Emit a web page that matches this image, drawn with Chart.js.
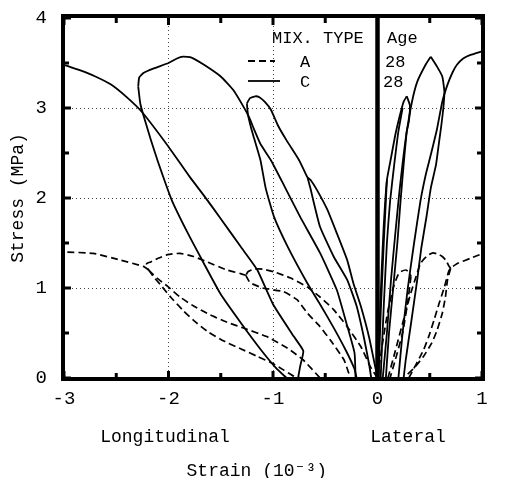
<!DOCTYPE html>
<html>
<head>
<meta charset="utf-8">
<script src="https://cdn.jsdelivr.net/npm/chart.js@4.4.1/dist/chart.umd.min.js"></script>
<style>
  html, body { margin: 0; padding: 0; background: #fff; }
  #wrap { width: 506px; height: 478px; }
</style>
</head>
<body>
<div id="wrap"><canvas id="myChart" width="506" height="478"></canvas></div>
<script>
// axis ticks
var xTicks = [-3, -2, -1, 0, 1];
var yTicks = [0, 1, 2, 3, 4];
var xMarks = [-3, -2.5, -2, -1.5, -1, -0.5, 0, 0.5, 1];
var yMarks = [0, 0.5, 1, 1.5, 2, 2.5, 3, 3.5, 4];

// legend
var mixTypes = ['A', 'C'];
var ages = ['28', '28'];

// MIX C (solid) - longitudinal strain (negative side)
var cLoadLong = [[0,0],[-0.08,0.45],[-0.16,0.8],[-0.23,1.05],[-0.29,1.31],[-0.39,1.61],[-0.48,1.87],[-0.58,2.09],[-0.64,2.2],[-0.67,2.23],[-0.7,2.3],[-0.75,2.42],[-0.87,2.64],[-0.95,2.8],[-1.02,2.98],[-1.08,3.07],[-1.13,3.12],[-1.17,3.13],[-1.22,3.11],[-1.25,3.05]];
var cUnload1Long = [[-0.67,2.23],[-0.64,2.1],[-0.62,2.0],[-0.55,1.68],[-0.42,1.35],[-0.29,1.09],[-0.2,0.8],[-0.13,0.45],[-0.08,0.15],[-0.06,0]];
var cUnload2Long = [[-1.25,3.05],[-1.24,2.93],[-1.21,2.78],[-1.18,2.66],[-1.12,2.42],[-1.07,2.11],[-0.99,1.79],[-0.86,1.46],[-0.67,1.05],[-0.55,0.82],[-0.42,0.56],[-0.3,0.3],[-0.22,0.1],[-0.2,0]];
var cReload3Long = [[-0.21,0],[-0.22,0.28],[-0.3,0.62],[-0.39,0.98],[-0.55,1.39],[-0.74,1.79],[-0.89,2.13],[-1.02,2.42],[-1.12,2.6],[-1.18,2.76],[-1.23,2.9],[-1.28,3.01],[-1.38,3.2],[-1.5,3.35],[-1.66,3.48],[-1.78,3.56],[-1.86,3.57],[-1.92,3.55],[-2.0,3.5],[-2.14,3.44],[-2.24,3.39],[-2.28,3.34],[-2.29,3.24]];
var cUnload3Long = [[-2.29,3.24],[-2.27,3.05],[-2.24,2.92],[-2.17,2.65],[-2.1,2.4],[-1.97,1.98],[-1.82,1.62],[-1.66,1.27],[-1.5,0.93],[-1.3,0.6],[-1.12,0.32],[-0.97,0.11],[-0.87,0]];
var cReload4Long = [[-0.76,0],[-0.74,0.13],[-0.71,0.3],[-0.8,0.46],[-1.0,0.82],[-1.15,1.2],[-1.31,1.46],[-1.5,1.77],[-1.65,2.01],[-1.8,2.24],[-2.0,2.57],[-2.25,2.95],[-2.4,3.12],[-2.55,3.26],[-2.7,3.35],[-2.85,3.42],[-3.0,3.48]];

// MIX C (solid) - lateral strain
var cLoadLat = [[0,0],[0.02,0.6],[0.04,1.2],[0.06,1.7],[0.09,2.2],[0.13,2.45],[0.17,2.7],[0.21,2.9],[0.25,3.07],[0.28,3.13]];
var cUnload1Lat = [[0.09,2.2],[0.06,1.5],[0.03,0.7],[0.01,0]];
var cReload2Lat = [[0.03,0],[0.06,0.8],[0.09,1.5],[0.12,1.96],[0.16,2.37],[0.2,2.74],[0.24,3.0]];
var cUnload2Lat = [[0.28,3.13],[0.31,3.03],[0.3,2.85],[0.28,2.74],[0.25,2.37],[0.22,1.96],[0.19,1.5],[0.15,1.0],[0.11,0.5],[0.08,0]];
var cReload3Lat = [[0.05,0],[0.09,0.5],[0.13,1.1],[0.17,1.6],[0.2,1.96],[0.22,2.18],[0.25,2.48],[0.28,2.74],[0.33,3.07],[0.38,3.29],[0.46,3.48],[0.51,3.57]];
var cUnload3Lat = [[0.51,3.57],[0.57,3.46],[0.62,3.35],[0.64,3.18],[0.63,3.0],[0.61,2.8],[0.59,2.63],[0.56,2.37],[0.51,2.11],[0.47,1.8],[0.42,1.45],[0.38,1.09],[0.32,0.6],[0.27,0.2],[0.25,0]];
var cReload4Lat = [[0.2,0],[0.24,0.5],[0.29,1.0],[0.35,1.5],[0.41,1.96],[0.46,2.25],[0.51,2.48],[0.57,2.77],[0.62,3.07],[0.67,3.26],[0.72,3.4],[0.76,3.48],[0.82,3.55],[0.89,3.59],[1.0,3.63]];

// MIX A (dashed) - longitudinal strain
var aLoadLong = [[0,0],[-0.07,0.13],[-0.16,0.35],[-0.29,0.57],[-0.42,0.76],[-0.55,0.9],[-0.67,1.01],[-0.83,1.11],[-0.99,1.18],[-1.1,1.21],[-1.18,1.21],[-1.24,1.18],[-1.26,1.14]];
var aArcLong = [[-1.26,1.14],[-1.31,1.16],[-1.44,1.2],[-1.63,1.29],[-1.76,1.35],[-1.89,1.385],[-2.01,1.37],[-2.1,1.33],[-2.17,1.29],[-2.21,1.27],[-2.19,1.2]];
var aUnload2Long = [[-1.26,1.14],[-1.22,1.06],[-1.1,1.0],[-0.9,0.96],[-0.77,0.87],[-0.67,0.72],[-0.55,0.57],[-0.45,0.42],[-0.32,0.2],[-0.26,0]];
var aMidLong = [[-2.19,1.2],[-2.11,1.11],[-2.01,1.02],[-1.89,0.9],[-1.76,0.8],[-1.6,0.7],[-1.44,0.62],[-1.27,0.55],[-1.06,0.46],[-0.86,0.33],[-0.71,0.2],[-0.55,0]];
var aLowLong = [[-2.19,1.2],[-2.14,1.12],[-2.08,1.04],[-1.98,0.9],[-1.86,0.75],[-1.76,0.64],[-1.63,0.52],[-1.47,0.41],[-1.3,0.32],[-1.15,0.24],[-1.0,0.16],[-0.9,0.09],[-0.8,0.02],[-0.74,0]];
var aReload4Long = [[-2.19,1.2],[-2.24,1.24],[-2.46,1.31],[-2.72,1.385],[-3.0,1.4]];

// MIX A (dashed) - lateral strain
var aLoadLat = [[0,0],[0.05,0.4],[0.1,0.75],[0.15,1.0],[0.19,1.13],[0.22,1.18],[0.27,1.2],[0.3,1.18],[0.32,1.13]];
var aUnload1Lat = [[0.32,1.13],[0.29,0.85],[0.24,0.5],[0.17,0.2],[0.12,0]];
var aReload2Lat = [[0.1,0],[0.17,0.3],[0.25,0.65],[0.32,0.95],[0.37,1.13],[0.41,1.27],[0.45,1.33],[0.49,1.37],[0.53,1.39],[0.57,1.38],[0.62,1.35],[0.66,1.3],[0.68,1.25],[0.7,1.22]];
var aUnload3Lat = [[0.7,1.22],[0.67,1.09],[0.65,0.9],[0.62,0.72],[0.57,0.53],[0.52,0.39],[0.44,0.24],[0.35,0.11],[0.25,0]];
var aReload4Lat = [[0.3,0],[0.44,0.31],[0.49,0.46],[0.54,0.64],[0.59,0.83],[0.64,1.01],[0.68,1.18],[0.7,1.22],[0.76,1.27],[0.89,1.33],[1.0,1.38]];

var solidCurves = [cLoadLong, cUnload1Long, cUnload2Long, cReload3Long, cUnload3Long, cReload4Long,
                   cLoadLat, cUnload1Lat, cReload2Lat, cUnload2Lat, cReload3Lat, cUnload3Lat, cReload4Lat];
var dashedCurves = [aLoadLong, aArcLong, aUnload2Long, aMidLong, aLowLong, aReload4Long,
                    aLoadLat, aUnload1Lat, aReload2Lat, aUnload3Lat, aReload4Lat];

var FONT = '"Liberation Mono", "DejaVu Sans Mono", monospace';
var dashA = [7, 4];

function toPoints(arr) {
  return arr.map(function(p) { return {x: p[0], y: p[1]}; });
}

var datasets = [];
dashedCurves.forEach(function(c) {
  datasets.push({ data: toPoints(c), borderColor: '#000', borderWidth: 1.7, borderDash: dashA,
                  showLine: true, pointRadius: 0, tension: 0.15, fill: false });
});
solidCurves.forEach(function(c) {
  datasets.push({ data: toPoints(c), borderColor: '#000', borderWidth: 1.8,
                  showLine: true, pointRadius: 0, tension: 0.15, fill: false });
});

// frame, inward tick marks, zero line and legend
var framePlugin = {
  id: 'frame',
  afterDraw: function(chart) {
    var ctx = chart.ctx, a = chart.chartArea, x = chart.scales.x, y = chart.scales.y;
    ctx.save();
    ctx.strokeStyle = '#000';
    ctx.lineCap = 'butt';

    ctx.lineWidth = 3;
    xMarks.forEach(function(v) {
      var px = x.getPixelForValue(v), len = Number.isInteger(v) ? 7 : 5;
      ctx.beginPath();
      ctx.moveTo(px, a.top); ctx.lineTo(px, a.top + len);
      ctx.moveTo(px, a.bottom); ctx.lineTo(px, a.bottom - len);
      ctx.stroke();
    });
    yMarks.forEach(function(v) {
      var py = y.getPixelForValue(v), len = Number.isInteger(v) ? 7 : 5;
      ctx.beginPath();
      ctx.moveTo(a.left, py); ctx.lineTo(a.left + len, py);
      ctx.moveTo(a.right, py); ctx.lineTo(a.right - len, py);
      ctx.stroke();
    });

    var z = x.getPixelForValue(0);
    ctx.lineWidth = 4.5;
    ctx.beginPath();
    ctx.moveTo(z, a.top); ctx.lineTo(z, a.bottom);
    ctx.stroke();

    ctx.lineWidth = 4;
    ctx.strokeRect(a.left - 1, a.top - 2, a.right - a.left + 2, a.bottom - a.top + 3);

    // legend
    ctx.fillStyle = '#000';
    ctx.textBaseline = 'middle';
    ctx.font = '17px ' + FONT;
    ctx.textAlign = 'left';
    ctx.fillText('MIX. TYPE', 272, 38);
    ctx.fillText('Age', 387, 38);
    var rows = [{dash: dashA, y: 61, x1: 275}, {dash: [], y: 81, x1: 280}];
    rows.forEach(function(r, i) {
      ctx.lineWidth = 1.8;
      ctx.setLineDash(r.dash);
      ctx.beginPath();
      ctx.moveTo(248, r.y); ctx.lineTo(r.x1, r.y);
      ctx.stroke();
      ctx.setLineDash([]);
      ctx.textAlign = 'center';
      ctx.fillText(mixTypes[i], 305, r.y + 1);
      ctx.textAlign = 'left';
      ctx.fillText(ages[i], 385 - i * 2, r.y + 1);
    });
    ctx.restore();
  }
};

var ctx = document.getElementById('myChart').getContext('2d');
var myChart = new Chart(ctx, {
  type: 'scatter',
  data: { datasets: datasets },
  options: {
    responsive: false,
    animation: false,
    layout: { padding: { top: 18, right: 24, left: 0, bottom: 0 } },
    plugins: { legend: { display: false }, tooltip: { enabled: false } },
    scales: {
      x: {
        type: 'linear', min: -3, max: 1,
        afterBuildTicks: function(s) { s.ticks = xTicks.map(function(v) { return {value: v}; }); },
        afterFit: function(s) { s.height = 100; s.paddingLeft = 0; s.paddingRight = 0; },
        ticks: { color: '#000', padding: 10, font: { family: FONT, size: 19 }, maxRotation: 0 },
        grid: { drawTicks: false, lineWidth: 1,
                color: function(c) { return (c.tick && (c.tick.value === 0 || c.tick.value === -3 || c.tick.value === 1)) ? 'rgba(0,0,0,0)' : '#444'; } },
        border: { display: false, dash: [1, 3] },
        title: { display: true, color: '#000',
                 text: ['Longitudinal             Lateral', 'Strain (10\u207B\u00B3)   '],
                 font: { family: FONT, size: 18, lineHeight: '34px' },
                 padding: { top: 0, bottom: -10 } }
      },
      y: {
        type: 'linear', min: 0, max: 4,
        afterBuildTicks: function(s) { s.ticks = yTicks.map(function(v) { return {value: v}; }); },
        afterFit: function(s) { s.width = 64; s.paddingTop = 0; s.paddingBottom = 0; },
        ticks: { color: '#000', padding: 17, font: { family: FONT, size: 19 } },
        grid: { drawTicks: false, lineWidth: 1,
                color: function(c) { return (c.tick && (c.tick.value === 0 || c.tick.value === 4)) ? 'rgba(0,0,0,0)' : '#444'; } },
        border: { display: false, dash: [1, 3] },
        title: { display: true, color: '#000', text: 'Stress (MPa)',
                 font: { family: FONT, size: 18 }, padding: { top: 7, bottom: 0 } }
      }
    }
  },
  plugins: [framePlugin]
});
</script>
</body>
</html>
